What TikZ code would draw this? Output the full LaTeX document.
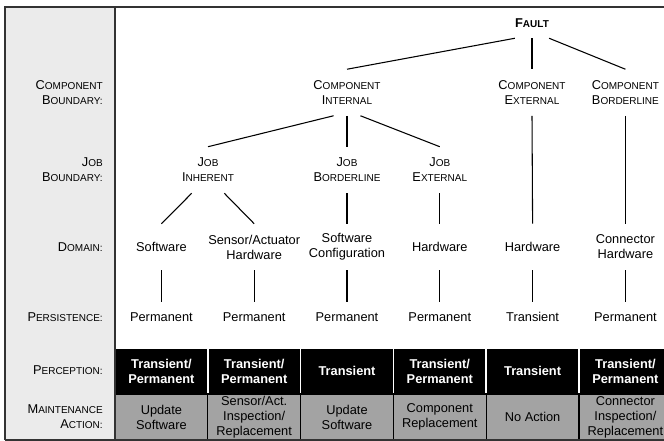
\documentclass[tikz,border=0pt]{standalone}
\usepackage{fontspec}
\setmainfont{Liberation Sans}
\definecolor{grayL}{HTML}{EBEBEB}
\definecolor{grayM}{HTML}{A3A3A3}
\definecolor{frameC}{HTML}{333333}
\newcommand{\smc}[2]{#1{\fontsize{7.5}{9}\selectfont #2}}

\begin{document}
\begin{tikzpicture}[x=0.75pt,y=-0.75pt,
  every node/.style={font=\fontsize{9.6}{11.3}\selectfont},
  lvl/.style={align=center, inner sep=0pt, minimum height=34.5pt},
  leaf/.style={align=center, inner sep=0pt, minimum height=22.5pt},
  lbl/.style={align=right, anchor=east, inner sep=0pt},
  perc/.style={fill=black, draw=white, line width=1.2pt, text=white, align=center,
    minimum width=69.6pt, minimum height=34.5pt, inner sep=0pt,
    font=\fontsize{9.6}{11.3}\selectfont\bfseries},
  maint/.style={fill=grayM, draw=black, line width=0.8pt, align=center,
    minimum width=69.6pt, minimum height=34.5pt, inner sep=0pt},
  edge/.style={line width=0.8pt}]
  \useasboundingbox (0,0) rectangle (664,441);
  \fill[white] (0,0) rectangle (664,441);
  \fill[grayL] (5,7) rectangle (115,440);

  %% bottom rows
  \node[perc] at (161.4,371) (PC1) {Transient/\\Permanent};
  \node[perc] at (254.2,371) (PC2) {Transient/\\Permanent};
  \node[perc] at (347.0,371) (PC3) {Transient};
  \node[perc] at (439.8,371) (PC4) {Transient/\\Permanent};
  \node[perc] at (532.6,371) (PC5) {Transient};
  \node[perc] at (625.4,371) (PC6) {Transient/\\Permanent};
  \node[maint] at (161.4,417) (MA1) {Update\\Software};
  \node[maint] at (254.2,417) (MA2) {Sensor/Act.\\Inspection/\\Replacement};
  \node[maint] at (347.0,417) (MA3) {Update\\Software};
  \node[maint] at (439.8,417) (MA4) {Component\\Replacement};
  \node[maint] at (532.6,417) (MA5) {No Action};
  \node[maint] at (625.4,417) (MA6) {Connector\\Inspection/\\Replacement};

  %% frame
  \draw[frameC, line width=1.1pt] (5,440) -- (5,7) -- (672,7);
  \draw[frameC, line width=1.1pt] (5,440) -- (672,440);
  \draw[frameC, line width=1.5pt] (115,7) -- (115,440);

  %% row labels
  \node[lbl] at (103,92.5) (LCB) {\smc{C}{OMPONENT}\\\smc{B}{OUNDARY:}};
  \node[lbl] at (103,170) (LJB) {\smc{J}{OB}\\\smc{B}{OUNDARY:}};
  \node[lbl] at (103,247) (LDO) {\smc{D}{OMAIN:}};
  \node[lbl] at (103,317) (LPE) {\smc{P}{ERSISTENCE:}};
  \node[lbl] at (103,370) (LPC) {\smc{P}{ERCEPTION:}};
  \node[lbl] at (103,417) (LMA) {\smc{M}{AINTENANCE}\\\smc{A}{CTION:}};

  %% tree
  \node[leaf] at (532,23) (FLT) {\bfseries\smc{F}{AULT}};
  \node[lvl] at (347,92.5) (CI) {\smc{C}{OMPONENT}\\\smc{I}{NTERNAL}};
  \node[lvl] at (532,92.5) (CE) {\smc{C}{OMPONENT}\\\smc{E}{XTERNAL}};
  \node[lvl] at (625.4,92.5) (CB) {\smc{C}{OMPONENT}\\\smc{B}{ORDERLINE}};
  \node[lvl] at (208,170) (JI) {\smc{J}{OB}\\\smc{I}{NHERENT}};
  \node[lvl] at (347,170) (JB) {\smc{J}{OB}\\\smc{B}{ORDERLINE}};
  \node[lvl] at (439.8,170) (JE) {\smc{J}{OB}\\\smc{E}{XTERNAL}};
  \node[lvl] at (161.4,247) (D1) {Software};
  \node[lvl] at (254.2,247) (D2) {Sensor/Actuator\\Hardware};
  \node[lvl] at (347.0,247) (D3) {Software\\Configuration};
  \node[lvl] at (439.8,247) (D4) {Hardware};
  \node[lvl] at (532.6,247) (D5) {Hardware};
  \node[lvl] at (625.4,247) (D6) {Connector\\Hardware};
  \node[leaf] at (161.4,317) (P1) {Permanent};
  \node[leaf] at (254.2,317) (P2) {Permanent};
  \node[leaf] at (347.0,317) (P3) {Permanent};
  \node[leaf] at (439.8,317) (P4) {Permanent};
  \node[leaf] at (532.6,317) (P5) {Transient};
  \node[leaf] at (625.4,317) (P6) {Permanent};

  \draw[edge] (FLT.south west) -- (CI.north);
  \draw[edge] (FLT.south) -- (CE.north);
  \draw[edge] (FLT.south east) -- (CB.north);
  \draw[edge] (CI.240) -- (JI.north);
  \draw[edge] (CI.south) -- (JB.north);
  \draw[edge] (CI.300) -- (JE.north);
  \draw[edge] (CE.south) -- (D5.north);
  \draw[edge] (CB.south) -- (D6.north);
  \draw[edge] (JI.235) -- (D1.north);
  \draw[edge] (JI.305) -- (D2.north);
  \draw[edge] (JB.south) -- (D3.north);
  \draw[edge] (JE.south) -- (D4.north);
  \draw[edge] (D1.south) -- (P1.north);
  \draw[edge] (D2.south) -- (P2.north);
  \draw[edge] (D3.south) -- (P3.north);
  \draw[edge] (D4.south) -- (P4.north);
  \draw[edge] (D5.south) -- (P5.north);
  \draw[edge] (D6.south) -- (P6.north);
\end{tikzpicture}
\end{document}
